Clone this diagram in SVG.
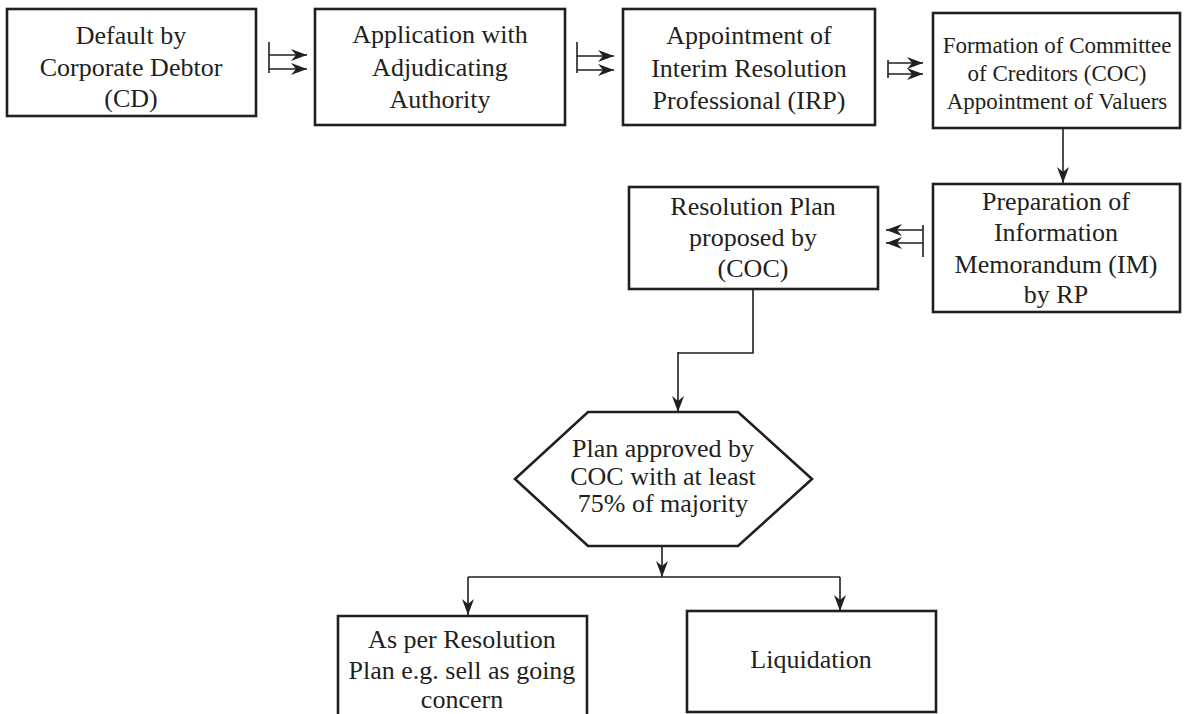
<svg xmlns="http://www.w3.org/2000/svg" width="1184" height="714" viewBox="0 0 1184 714">
<defs>
<marker id="ah" markerUnits="userSpaceOnUse" markerWidth="18" markerHeight="14" refX="16" refY="7" orient="auto">
<path d="M0,1 L16,7 L0,13 L5,7 z" fill="#231f20"/>
</marker>
</defs>
<style>
.box{fill:#fff;stroke:#231f20;stroke-width:2.6}
.t{font-size:26px;fill:#231f20;text-anchor:middle}
.s{font-size:23px}
.c{fill:none;stroke:#231f20;stroke-width:1.6}
.a{fill:none;stroke:#231f20;stroke-width:1.6;marker-end:url(#ah)}
</style>
<rect width="1184" height="714" fill="#fff"/>
<g id="connectors">
<path class="c" d="M269,42 V73"/>
<path class="a" d="M269,55 H307"/>
<path class="a" d="M269,69 H307"/>
<path class="c" d="M577,42 V73"/>
<path class="a" d="M577,56 H614"/>
<path class="a" d="M577,70 H614"/>
<path class="c" d="M888,60 V78"/>
<path class="a" d="M888,63 H923"/>
<path class="a" d="M888,74 H923"/>
<path class="a" d="M1063,128 V183"/>
<path class="c" d="M923,225 V257"/>
<path class="a" d="M923,230 H886"/>
<path class="a" d="M923,243 H886"/>
<path class="c" d="M753,289 V353 H678"/>
<path class="a" d="M678,352 V412"/>
<path class="a" d="M662,546 V577"/>
<path class="c" d="M468,577 H840"/>
<path class="a" d="M468,577 V615"/>
<path class="a" d="M840,577 V611"/>
</g>
<g font-family="Liberation Serif, Times New Roman, serif">
<g id="n1">
<rect class="box" x="7" y="9" width="249" height="107"/>
<text class="t" x="131" y="44">Default by</text>
<text class="t" x="131" y="76">Corporate Debtor</text>
<text class="t" x="131" y="107">(CD)</text>
</g>
<g id="n2">
<rect class="box" x="315" y="9" width="250" height="116"/>
<text class="t" x="440" y="43">Application with</text>
<text class="t" x="440" y="76">Adjudicating</text>
<text class="t" x="440" y="108">Authority</text>
</g>
<g id="n3">
<rect class="box" x="623" y="9" width="252" height="116"/>
<text class="t" x="749" y="44">Appointment of</text>
<text class="t" x="749" y="77">Interim Resolution</text>
<text class="t" x="749" y="109">Professional (IRP)</text>
</g>
<g id="n4">
<rect class="box" x="933" y="13" width="247" height="115"/>
<text class="t s" x="1057" y="53">Formation of Committee</text>
<text class="t s" x="1057" y="81">of Creditors (COC)</text>
<text class="t s" x="1057" y="109">Appointment of Valuers</text>
</g>
<g id="n5">
<rect class="box" x="933" y="184" width="247" height="128"/>
<text class="t" x="1056" y="210">Preparation of</text>
<text class="t" x="1056" y="241">Information</text>
<text class="t" x="1056" y="273">Memorandum (IM)</text>
<text class="t" x="1056" y="303">by RP</text>
</g>
<g id="n6">
<rect class="box" x="629" y="187" width="249" height="102"/>
<text class="t" x="753" y="215">Resolution Plan</text>
<text class="t" x="753" y="246">proposed by</text>
<text class="t" x="753" y="277">(COC)</text>
</g>
<g id="n7">
<polygon class="box" points="588,412 738,412 812,479 738,546 588,546 515,479"/>
<text class="t" x="663" y="457">Plan approved by</text>
<text class="t" x="663" y="485">COC with at least</text>
<text class="t" x="663" y="512">75% of majority</text>
</g>
<g id="n8">
<path class="box" d="M338,720 V616 H587 V720"/>
<text class="t" x="462" y="648">As per Resolution</text>
<text class="t" x="462" y="679">Plan e.g. sell as going</text>
<text class="t" x="462" y="708">concern</text>
</g>
<g id="n9">
<rect class="box" x="687" y="611" width="249" height="101"/>
<text class="t" x="811" y="668">Liquidation</text>
</g>
</g>
</svg>
